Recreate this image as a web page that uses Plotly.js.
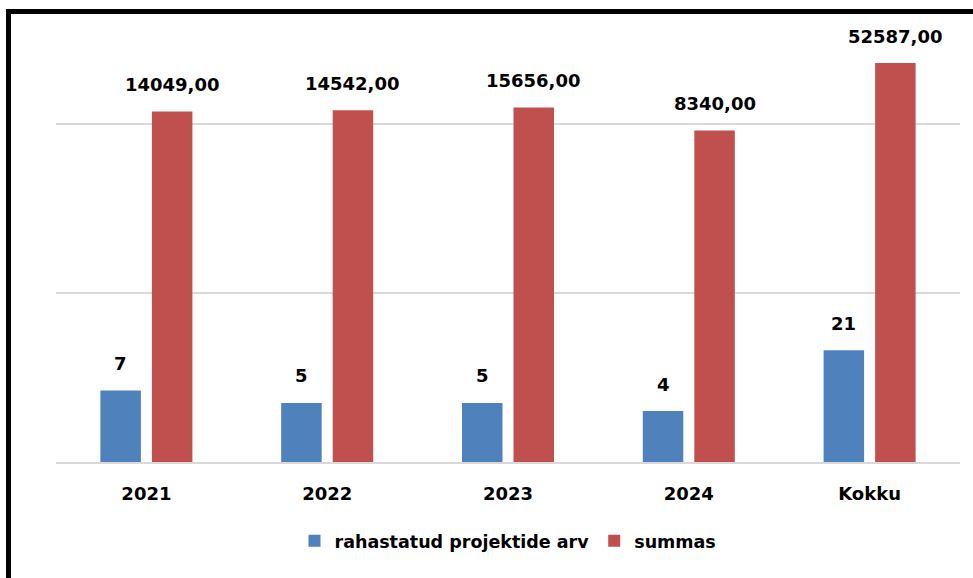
<!DOCTYPE html>
<html>
<head>
<meta charset="utf-8">
<script src="https://cdn.plot.ly/plotly-3.0.1.min.js"></script>
<style>
  html, body { margin: 0; padding: 0; background: #fff; width: 973px; height: 578px; overflow: hidden; }
  #frame { position: absolute; left: 6px; top: 9px; width: 962px; height: 569px;
           border-left: 5px solid #000; border-top: 5px solid #000; }
  #chart { width: 962px; height: 564px; }
</style>
</head>
<body>
<div id="frame"><div id="chart"></div></div>
<script>
// ---- data ----
const categories = ['2021', '2022', '2023', '2024', 'Kokku'];
const projectCounts = [7, 5, 5, 4, 21];
const amounts = [14049, 14542, 15656, 8340, 52587];
const seriesNames = ['rahastatud projektide arv', 'summas'];

const blue = '#4F81BD';
const red = '#C0504D';
const FONT = 'DejaVu Sans, Liberation Sans, sans-serif';

const fmt = v => v.toFixed(2).replace('.', ',');

const bargap = 0.43, bargroupgap = 0.214;
const margin = { l: 45, r: 13, t: 17, b: 116 };
const plotW = 962 - margin.l - margin.r;
const catW = plotW / categories.length;
const slot = catW * (1 - bargap) / 2;
const off = slot / 2;

const traces = [
  { type: 'bar', name: seriesNames[0], x: categories, y: projectCounts,
    marker: { color: blue }, hoverinfo: 'x+y' },
  { type: 'bar', name: seriesNames[1], x: categories, y: amounts,
    marker: { color: red }, hoverinfo: 'x+y' }
];

const labelFont = { family: FONT, size: 18, color: '#000', weight: 'bold' };
const annotations = [];
categories.forEach((c, i) => {
  annotations.push({ x: i, y: Math.log10(projectCounts[i]), xref: 'x', yref: 'y',
    text: String(projectCounts[i]), showarrow: false, xshift: -off, yshift: 27,
    yanchor: 'middle', font: labelFont });
  annotations.push({ x: i, y: Math.log10(amounts[i]), xref: 'x', yref: 'y',
    text: fmt(amounts[i]), showarrow: false, xshift: off, yshift: 27,
    yanchor: 'middle', font: labelFont });
});

const layout = {
  width: 962, height: 564,
  margin: margin,
  paper_bgcolor: '#fff', plot_bgcolor: '#fff',
  barmode: 'group', bargap: bargap, bargroupgap: bargroupgap,
  font: { family: FONT, color: '#000' },
  showlegend: true,
  legend: { orientation: 'h', x: 0.5, xanchor: 'center', y: -0.183, yanchor: 'middle',
            font: { family: FONT, size: 17.5, color: '#000', weight: 'bold' },
            traceorder: 'normal' },
  xaxis: { type: 'category', range: [-0.5, categories.length - 0.5], autorange: false,
           showgrid: false, zeroline: false,
           showline: true, linecolor: '#d9d9d9', linewidth: 2,
           ticks: '', ticklabelstandoff: 14,
           tickfont: { family: FONT, size: 18, color: '#000', weight: 'bold' } },
  yaxis: { type: 'log', range: [0, 5.1], autorange: false, tickvals: [1, 100, 10000],
           showticklabels: false, showgrid: true, gridcolor: '#d9d9d9', gridwidth: 2,
           zeroline: false, showline: false, ticks: '' },
  annotations: annotations
};

Plotly.newPlot('chart', traces, layout, { displayModeBar: false, staticPlot: true });
</script>
</body>
</html>
